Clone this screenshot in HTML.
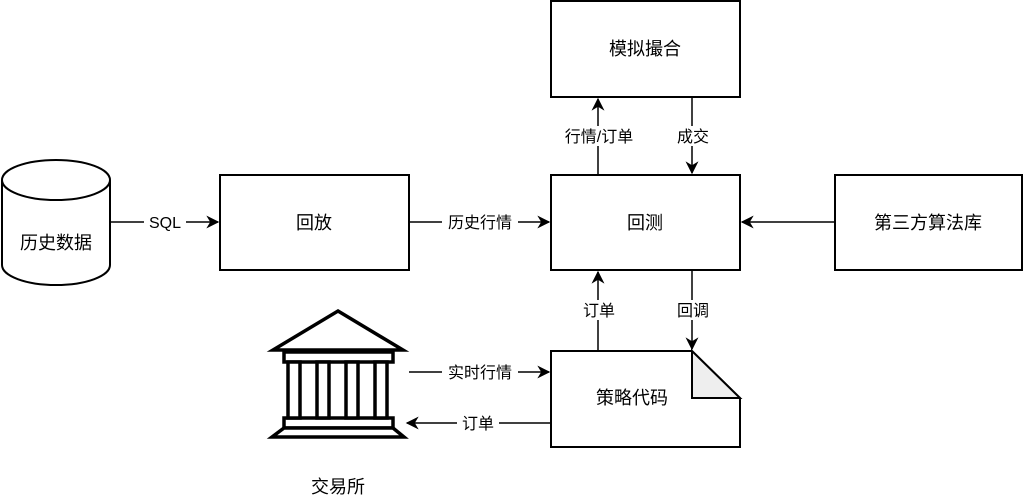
<!DOCTYPE html>
<html><head><meta charset="utf-8"><style>
body{margin:0;background:#fff}
svg text{font-family:"Liberation Sans","Noto Sans CJK SC",sans-serif;font-size:18px;fill:#000}
</style></head><body>
<svg width="1024" height="497" viewBox="0 0 1024 497" xmlns="http://www.w3.org/2000/svg">
<defs>
<marker id="b" viewBox="0 0 10 10" refX="9" refY="5" markerWidth="13" markerHeight="13" orient="auto" markerUnits="userSpaceOnUse"><path d="M0,0 L10,5 L0,10 L3,5 z" fill="#000"/></marker></defs>
<g fill="#fff" stroke="#000" stroke-width="2">
<path d="M2,180 L2,265 A54,20 0 0 0 110,265 L110,180"/>
<ellipse cx="56" cy="180" rx="54" ry="20"/>
<rect x="220" y="175" width="189" height="95"/>
<rect x="551" y="175" width="189" height="95"/>
<rect x="551" y="1" width="189" height="96"/>
<rect x="835" y="175" width="187" height="95"/>
<path d="M551,351 L692,351 L740,398 L740,447 L551,447 Z"/>
<path d="M692,351 L692,398 L740,398 Z" fill="#eee"/>
</g>
<g stroke="#000" stroke-width="1.5" fill="none">
<line x1="110" y1="222" x2="218" y2="222" marker-end="url(#b)"/>
<line x1="409" y1="222" x2="549" y2="222" marker-end="url(#b)"/>
<line x1="835" y1="222" x2="742" y2="222" marker-end="url(#b)"/>
<line x1="598" y1="175" x2="598" y2="99" marker-end="url(#b)"/>
<line x1="692" y1="97" x2="692" y2="173" marker-end="url(#b)"/>
<line x1="598" y1="351" x2="598" y2="272" marker-end="url(#b)"/>
<line x1="692" y1="270" x2="692" y2="349" marker-end="url(#b)"/>
<line x1="409" y1="372" x2="549" y2="372" marker-end="url(#b)"/>
<line x1="551" y1="423" x2="407" y2="423" marker-end="url(#b)"/>
</g>
<g fill="#fff">
<rect x="144" y="212" width="42" height="20"/>
<rect x="442" y="212" width="76" height="20"/>
<rect x="558" y="126" width="82" height="20"/>
<rect x="672" y="126" width="42" height="20"/>
<rect x="578" y="300" width="42" height="20"/>
<rect x="672" y="300" width="42" height="20"/>
<rect x="442" y="362" width="76" height="20"/>
<rect x="457" y="413" width="42" height="20"/>
</g>
<g stroke="#000" stroke-width="3.5" fill="#fff" stroke-linejoin="miter">
<path d="M338,311 L403,350 L273,350 Z"/>
<rect x="284" y="352" width="109" height="10"/>
<rect x="284" y="418" width="109" height="10"/>
<path d="M284,428 L393,428 L404,437 L272,437 Z"/>
<rect x="288" y="362" width="12" height="56"/>
<rect x="317" y="362" width="12" height="56"/>
<rect x="346" y="362" width="12" height="56"/>
<rect x="375" y="362" width="12" height="56"/>
</g>
<g text-anchor="middle">
<text x="56" y="249">历史数据</text>
<text x="165" y="228" style="font-size:16px">SQL</text>
<text x="314" y="229">回放</text>
<text x="480" y="228" style="font-size:16px">历史行情</text>
<text x="645" y="229">回测</text>
<text x="645" y="55">模拟撮合</text>
<text x="928" y="229">第三方算法库</text>
<text x="599" y="142" style="font-size:16px">行情/订单</text>
<text x="693" y="142" style="font-size:16px">成交</text>
<text x="599" y="316" style="font-size:16px">订单</text>
<text x="693" y="316" style="font-size:16px">回调</text>
<text x="480" y="378" style="font-size:16px">实时行情</text>
<text x="478" y="429" style="font-size:16px">订单</text>
<text x="632" y="404">策略代码</text>
<text x="338" y="493">交易所</text>
</g>
</svg>
</body></html>
